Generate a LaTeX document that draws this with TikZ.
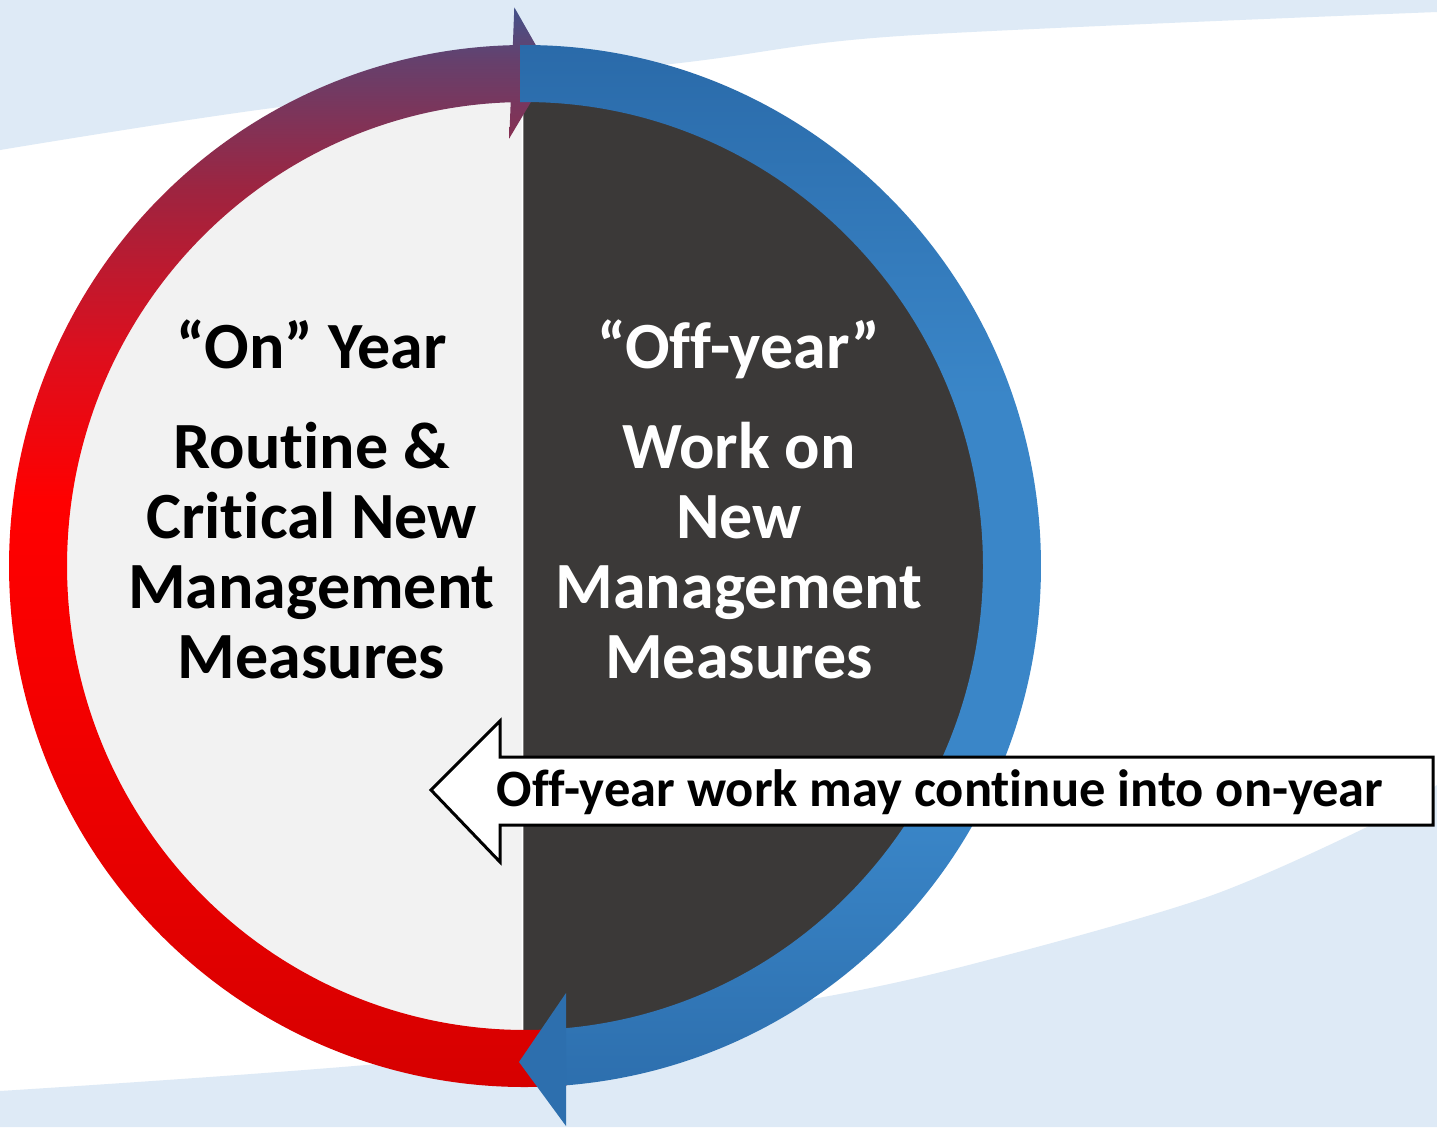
\documentclass[tikz,border=0pt]{standalone}
\usepackage{fontspec}
\setmainfont{Carlito}[Ligatures=NoCommon]
\usetikzlibrary{calc}
\definecolor{bgblue}{HTML}{DEEAF6}
\definecolor{halfgray}{HTML}{F2F2F2}
\definecolor{halfdark}{HTML}{3B3938}
\definecolor{blueT}{HTML}{2A6AA9}
\definecolor{blueM}{HTML}{3A86C8}
\definecolor{blueB}{HTML}{2D6FAE}
\definecolor{cA}{HTML}{D60000}
\definecolor{cB}{HTML}{F80000}
\definecolor{cC}{HTML}{FF0000}
\definecolor{cD}{HTML}{DC0F1E}
\definecolor{cE}{HTML}{9E2440}
\definecolor{cF}{HTML}{66406C}
\definecolor{cG}{HTML}{44528A}
\pgfdeclareverticalshading{ringleft}{100bp}{color(0bp)=(cA); color(25bp)=(cA); color(45.3bp)=(cB); color(52.2bp)=(cC); color(59.2bp)=(cD); color(66.5bp)=(cE); color(72.5bp)=(cF); color(75bp)=(cG); color(100bp)=(cG)}
\pgfdeclareverticalshading{ringright}{100bp}{color(0bp)=(blueB); color(25bp)=(blueB); color(38bp)=(blueM); color(58bp)=(blueM); color(75bp)=(blueT); color(100bp)=(blueT)}
\tikzset{
  bigtext/.style={font=\fontsize{66}{70}\selectfont\bfseries, anchor=base, inner sep=0pt},
  ontext/.style={bigtext, text=black},
  offtext/.style={bigtext, text=white},
  calloutshape/.style={line width=3pt, draw=black, fill=white, line join=miter},
  callouttext/.style={font=\fontsize{52.5}{52.5}\selectfont\bfseries, anchor=base, inner sep=0pt}
}
\begin{document}
\begin{tikzpicture}[x=1pt,y=-1pt]
\useasboundingbox (0,0) rectangle (1437,1127);
\fill[white] (0,0) rectangle (1437,1127);
% background bands
\fill[bgblue] (0,0) -- (1437,0) -- plot[smooth] coordinates {(1437,12) (900,36) (680,63) (280,107) (0,150)} -- cycle;
\fill[bgblue] (0,1127) -- (1437,1127) -- plot[smooth] coordinates {(1437,785) (1367,827) (1210,896) (1007,955) (829,996) (450,1057) (0,1091)} -- cycle;

\coordinate (C) at (525,566);
% halves
\begin{scope}
  \clip (0,0) rectangle (521.7,1127);
  \fill[halfgray] (C) ellipse[x radius=480, y radius=486];
\end{scope}
\begin{scope}
  \clip (523.3,0) rectangle (1437,1127);
  \fill[halfdark] (C) ellipse[x radius=480, y radius=486];
\end{scope}

% left (red/purple) band with top arrowhead
\begin{scope}
  \clip ($(C)+(85.33:516 and 521)$) arc[start angle=85.33, end angle=268.78, x radius=516, y radius=521]
        -- ($(C)+(268.62:458 and 464)$) arc[start angle=268.62, end angle=84.74, x radius=458, y radius=464] -- cycle;
  \shade[shading=ringleft] (0,7) rectangle (600,1090);
\end{scope}
\begin{scope}
  \clip (514.3,7.3) -- (550,70) -- (509.3,138.3) -- cycle;
  \shade[shading=ringleft] (0,7) rectangle (600,1090);
\end{scope}

% right (blue) band with bottom arrowhead
\shade[shading=ringright]
  ($(C)+(269.445:516 and 521)$) arc[start angle=269.445, end angle=445.44, x radius=516, y radius=521]
  -- ($(C)+(444.86:458 and 464)$) arc[start angle=444.86, end angle=269.374, x radius=458, y radius=464] -- cycle;
\fill[blueB] (566,993) -- (519,1062) -- (566,1126) -- cycle;

% texts
\node[ontext] (l0) at (311.5,368) {“On” Year};
\node[ontext] (l1) at (311.5,468) {Routine \&};
\node[ontext] (l2) at (311.5,538) {Critical New};
\node[ontext] (l3) at (311.5,608) {Management};
\node[ontext] (l4) at (311.5,678) {Measures};
\node[offtext] (r0) at (739,368) {“Off-year”};
\node[offtext] (r1) at (739,468) {Work on};
\node[offtext] (r2) at (739,538) {New};
\node[offtext] (r3) at (739,608) {Management};
\node[offtext] (r4) at (739,678) {Measures};

% callout arrow
\draw[calloutshape] (431,790) -- (500,721) -- (500,757) -- (1433,757) -- (1433,825) -- (500,825) -- (500,862) -- cycle;
\node[callouttext] (ct) at (940,806) {Off-year work may continue into on-year};
\end{tikzpicture}
\end{document}
